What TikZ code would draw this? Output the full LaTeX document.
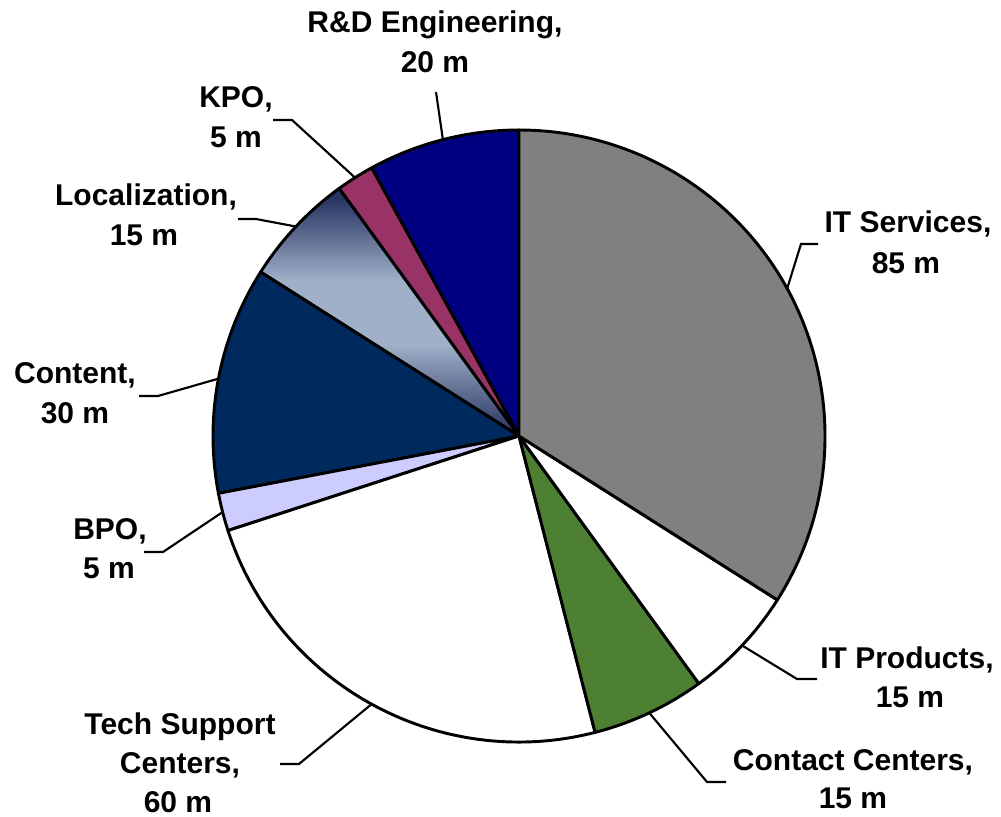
\documentclass[tikz,border=0pt]{standalone}
\usepackage{fontspec}
\setmainfont{Liberation Sans}
\usetikzlibrary{calc}
\definecolor{itsgray}{RGB}{128,128,128}
\definecolor{ccgreen}{RGB}{78,128,52}
\definecolor{bpoblue}{RGB}{204,204,255}
\definecolor{connavy}{RGB}{0,41,94}
\definecolor{locdark}{RGB}{40,52,98}
\definecolor{locmid}{RGB}{160,176,200}
\definecolor{kpomag}{RGB}{153,51,102}
\definecolor{rdnavy}{RGB}{0,0,128}
\tikzset{
  slice/.style={draw=black, line width=2.2pt, line join=round},
  lbl/.style={anchor=base, inner sep=0pt, font=\bfseries\fontsize{22.5}{30}\selectfont},
  leader/.style={draw=black, line width=1.6pt},
}
\newcommand{\R}{229.5pt}
\begin{document}
\begin{tikzpicture}[x=0.75pt, y=-0.75pt]
\useasboundingbox (0,0) rectangle (1001,817);
\coordinate (C) at (519,436);
% slices (counterclockwise from top)
\draw[slice, fill=rdnavy] (C) -- ++(90:\R) arc[start angle=90, end angle=118.8, radius=\R] -- cycle;
\draw[slice, fill=kpomag] (C) -- ++(118.8:\R) arc[start angle=118.8, end angle=126, radius=\R] -- cycle;
\begin{scope}
  \clip (C) -- ++(126:\R) arc[start angle=126, end angle=147.6, radius=\R] -- cycle;
  \foreach \i in {0,...,126} {
    \pgfmathsetmacro\yy{186+2*\i}
    \pgfmathsetmacro\pp{(\yy<320) ? 100*max(0,min(1,(\yy-198)/82)) : 100*max(0,min(1,(432-\yy)/88))}
    \fill[locmid!\pp!locdark] (250,\yy) rectangle (522,\yy+2.8);
  }
\end{scope}
\draw[slice] (C) -- ++(126:\R) arc[start angle=126, end angle=147.6, radius=\R] -- cycle;
\draw[slice, fill=connavy] (C) -- ++(147.6:\R) arc[start angle=147.6, end angle=190.8, radius=\R] -- cycle;
\draw[slice, fill=bpoblue] (C) -- ++(190.8:\R) arc[start angle=190.8, end angle=198, radius=\R] -- cycle;
\draw[slice, fill=white] (C) -- ++(198:\R) arc[start angle=198, end angle=284.4, radius=\R] -- cycle;
\draw[slice, fill=ccgreen] (C) -- ++(284.4:\R) arc[start angle=284.4, end angle=306, radius=\R] -- cycle;
\draw[slice, fill=white] (C) -- ++(306:\R) arc[start angle=306, end angle=327.6, radius=\R] -- cycle;
\draw[slice, fill=itsgray] (C) -- ++(327.6:\R) arc[start angle=327.6, end angle=450, radius=\R] -- cycle;
% edge points for leaders
\coordinate (eRD) at ($(C)+(104.4:\R)$);
\coordinate (eKPO) at ($(C)+(122.4:\R)$);
\coordinate (eLOC) at ($(C)+(136.8:\R)$);
\coordinate (eCON) at ($(C)+(169.2:\R)$);
\coordinate (eBPO) at ($(C)+(194.4:\R)$);
\coordinate (eTS) at ($(C)+(241.2:\R)$);
\coordinate (eCC) at ($(C)+(295.2:\R)$);
\coordinate (eITP) at ($(C)+(316.8:\R)$);
\coordinate (eITS) at ($(C)+(28.8:\R)$);
% labels
\node[lbl] (rd1) at (435,33) {R\&D Engineering,};
\node[lbl] (rd2) at (435,73) {20 m};
\node[lbl] (kpo1) at (236,108) {KPO,};
\node[lbl] (kpo2) at (236,147) {5 m};
\node[lbl] (loc1) at (146,205) {Localization,};
\node[lbl] (loc2) at (144,245) {15 m};
\node[lbl] (con1) at (75,383) {Content,};
\node[lbl] (con2) at (75,423) {30 m};
\node[lbl] (bpo1) at (110,539) {BPO,};
\node[lbl] (bpo2) at (109,578) {5 m};
\node[lbl] (ts1) at (180,734) {Tech Support};
\node[lbl] (ts2) at (180,773) {Centers,};
\node[lbl] (ts3) at (178,812) {60 m};
\node[lbl] (cc1) at (853,770) {Contact Centers,};
\node[lbl] (cc2) at (853,808) {15 m};
\node[lbl] (itp1) at (907,668) {IT Products,};
\node[lbl] (itp2) at (910,707) {15 m};
\node[lbl] (its1) at (908,233) {IT Services,};
\node[lbl] (its2) at (906,273) {85 m};
% leader start points
\coordinate (sRD) at (436,92);
\coordinate (sKPO) at (273,120);
\coordinate (bKPO) at (292,120);
\coordinate (sLOC) at (238,219);
\coordinate (bLOC) at (256,219);
\coordinate (sCON) at (139,396);
\coordinate (bCON) at (158,396);
\coordinate (sBPO) at (144,552);
\coordinate (bBPO) at (163,552);
\coordinate (sTS) at (280,764);
\coordinate (bTS) at (299,764);
\coordinate (sCC) at (726,782);
\coordinate (bCC) at (707,782);
\coordinate (sITP) at (817,679);
\coordinate (bITP) at (797,679);
\coordinate (sITS) at (818,244);
\coordinate (bITS) at (801,244);
% leaders
\draw[leader] (sRD) -- (eRD);
\draw[leader] (sKPO) -- (bKPO) -- (eKPO);
\draw[leader] (sLOC) -- (bLOC) -- (eLOC);
\draw[leader] (sCON) -- (bCON) -- (eCON);
\draw[leader] (sBPO) -- (bBPO) -- (eBPO);
\draw[leader] (sTS) -- (bTS) -- (eTS);
\draw[leader] (sCC) -- (bCC) -- (eCC);
\draw[leader] (sITP) -- (bITP) -- (eITP);
\draw[leader] (sITS) -- (bITS) -- (eITS);
\end{tikzpicture}
\end{document}
